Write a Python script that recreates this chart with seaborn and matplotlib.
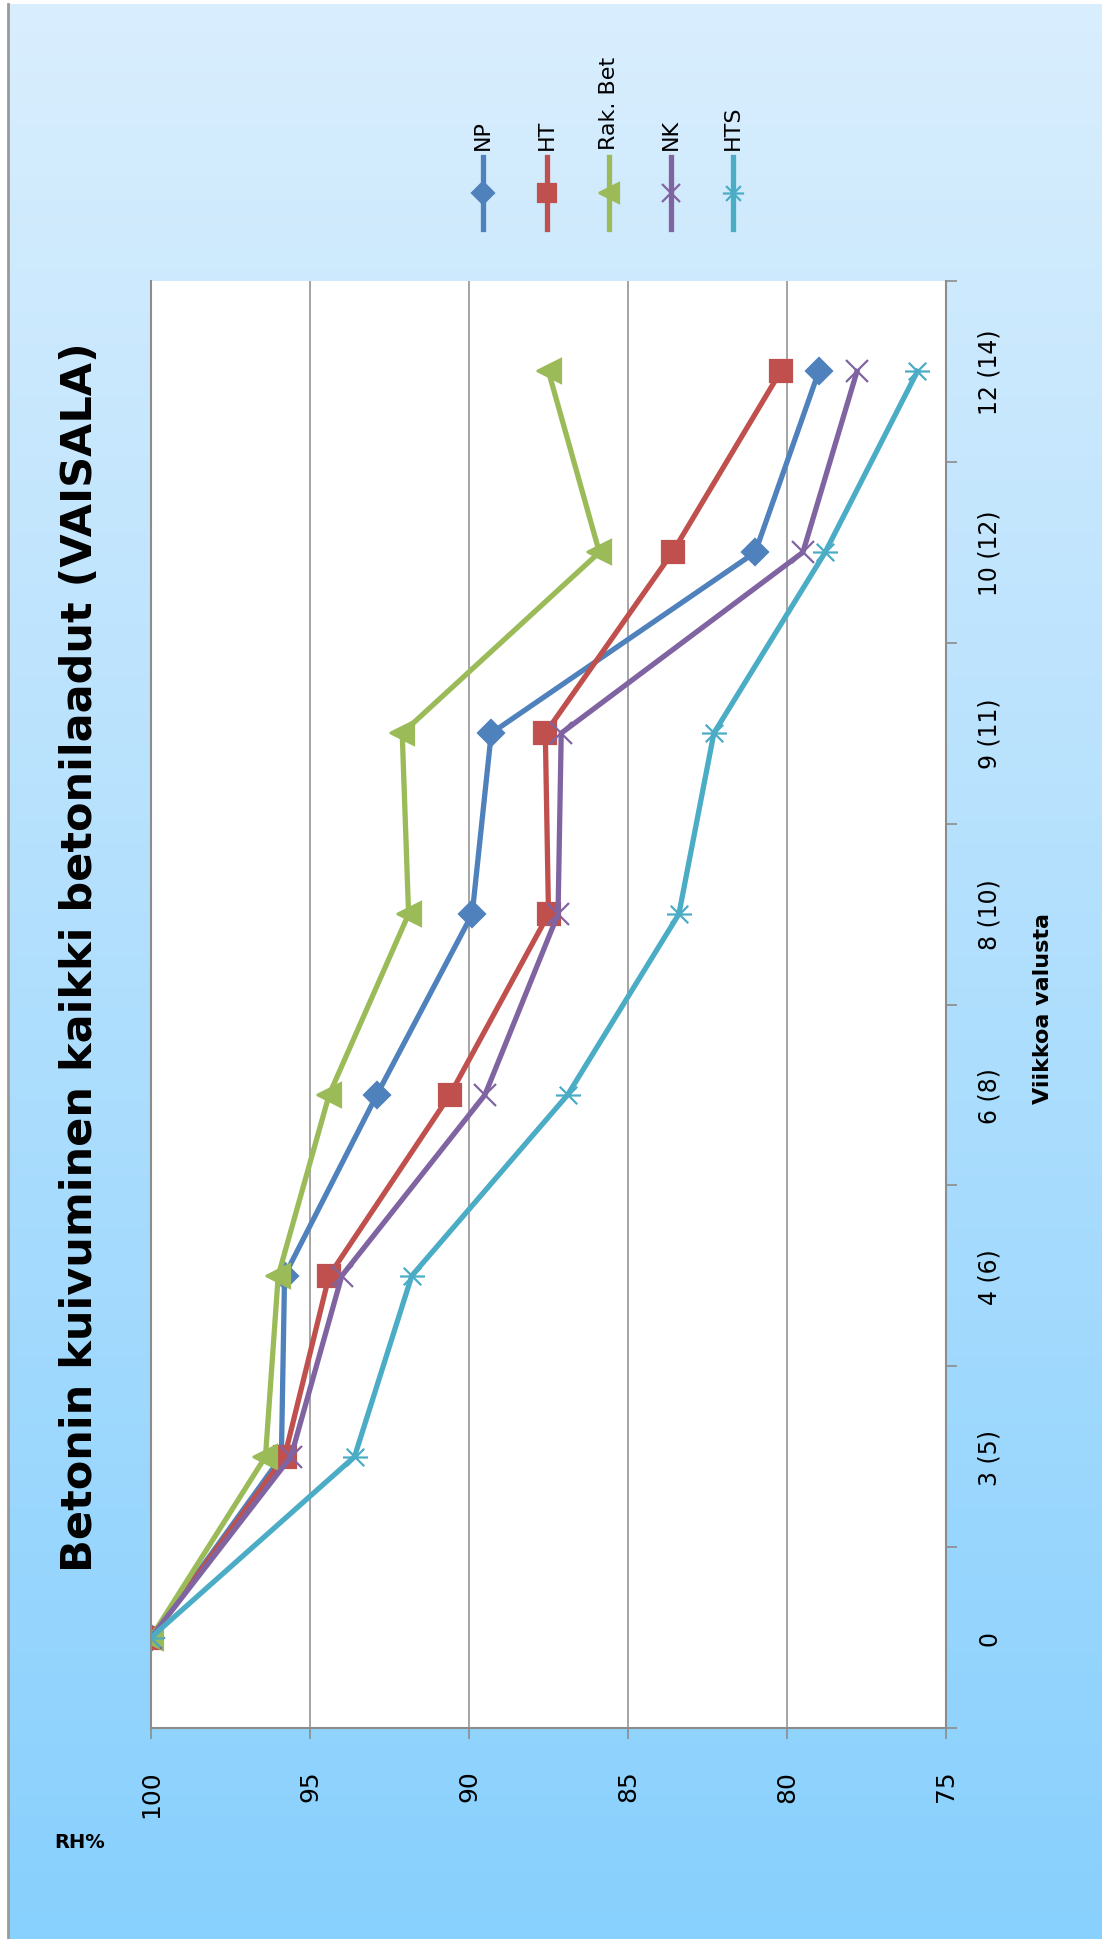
import numpy as np
import pandas as pd
import seaborn as sns
import matplotlib.pyplot as plt
from matplotlib.lines import Line2D
from matplotlib.path import Path

# data (RH% per measuring week)
weeks = ["0", "3 (5)", "4 (6)", "6 (8)", "8 (10)", "9 (11)", "10 (12)", "12 (14)"]
np_rh = [100, 95.9, 95.8, 92.9, 89.9, 89.3, 81.0, 79.0]
ht_rh = [100, 95.8, 94.4, 90.6, 87.5, 87.6, 83.6, 80.2]
rak_rh = [100, 96.4, 96.0, 94.4, 91.9, 92.1, 85.9, 87.5]
nk_rh = [100, 95.6, 94.0, 89.5, 87.2, 87.1, 79.5, 77.8]
hts_rh = [100, 93.6, 91.8, 86.9, 83.4, 82.3, 78.8, 75.9]
rh_ticks = [100, 95, 90, 85, 80, 75]

names = ["NP", "HT", "Rak. Bet", "NK", "HTS"]
colors = ["#4F81BD", "#C0504D", "#9BBB59", "#8064A2", "#4BACC6"]

star = Path([(-1, 0), (1, 0), (-0.7, -0.7), (0.7, 0.7), (-0.7, 0.7), (0.7, -0.7)],
            [Path.MOVETO, Path.LINETO] * 3)
markers = ["D", "s", "<", "x", star]
msizes = [13, 16, 17, 16, 18]

df = pd.DataFrame({"pos": np.tile(np.arange(len(weeks)), 5),
                   "RH": np_rh + ht_rh + rak_rh + nk_rh + hts_rh,
                   "series": np.repeat(names, len(weeks))})

W, H = 1102, 1940
fig = plt.figure(figsize=(W / 100, H / 100), dpi=100)
fig.patch.set_facecolor("white")

# gradient background
bg = fig.add_axes([9 / W, 0, 1 - 9 / W, 1 - 5 / H])
top = np.array([0xd9, 0xee, 0xfd]) / 255
bot = np.array([0x88, 0xd0, 0xfd]) / 255
t = np.linspace(0, 1, 256)[:, None]
grad = top[None, :] * (1 - t) + bot[None, :] * t
bg.imshow(np.repeat(grad[:, None, :], 2, axis=1), aspect="auto", extent=[0, 1, 0, 1])
bg.set_axis_off()
fig.add_artist(Line2D([7.5 / W, 7.5 / W], [0, 1 - 5 / H], transform=fig.transFigure,
                      color="#9a9a9a", lw=2))

ax = fig.add_axes([151 / W, 1 - 1729 / H, (946 - 151) / W, (1729 - 282) / H])
ax.set_facecolor("white")

for name, c, m, ms in zip(names, colors, markers, msizes):
    d = df[df["series"] == name]
    sns.lineplot(data=d, x="RH", y="pos", sort=False, estimator=None, color=c,
                 marker=m, markersize=ms, mfc=c, mec=c, mew=1.6, lw=3.8, ax=ax)

ax.set_xlim(100, 75)
ax.set_ylim(-0.5, len(weeks) - 0.5)
ax.set_xticks(rh_ticks)
ax.set_xticklabels([str(v) for v in rh_ticks], rotation=90, va="top", fontsize=18)
ax.grid(axis="x", color="#8c8c8c", lw=1.1)
ax.grid(axis="y", visible=False)
ax.tick_params(axis="x", length=8, color="#8c8c8c", width=1.2, pad=22)

ax.yaxis.tick_right()
ax.set_yticks(np.arange(len(weeks)))
ax.set_yticklabels(weeks, rotation=90, fontsize=17, va="center")
ax.set_yticks(np.arange(len(weeks) + 1) - 0.5, minor=True)
ax.tick_params(axis="y", which="major", length=0, pad=23)
ax.tick_params(axis="y", which="minor", length=8, color="#8c8c8c", width=1.2, right=True, left=False)
ax.set_xlabel("")
ax.set_ylabel("")

ax.spines["top"].set_visible(False)
for s in ["bottom", "right", "left"]:
    ax.spines[s].set_color("#8c8c8c")
    ax.spines[s].set_linewidth(1.5)

fig.text(80 / W, 1 - 957 / H, "Betonin kuivuminen kaikki betonilaadut (VAISALA)",
         rotation=90, ha="center", va="center", fontsize=31, fontweight="bold")
fig.text(1043 / W, 1 - 1008 / H, "Viikkoa valusta", rotation=90, ha="center",
         va="center", fontsize=16, fontweight="bold")
fig.text(80 / W, 1 - 1843 / H, "RH%", ha="center", va="center", fontsize=14, fontweight="bold")

# legend drawn by hand, rotated like the chart
leg_x = [483, 547, 609, 671, 733]
for x, name, c, m, ms in zip(leg_x, names, colors, markers, msizes):
    fig.add_artist(Line2D([x / W] * 3, [1 - 230 / H, 1 - 194 / H, 1 - 158 / H],
                          transform=fig.transFigure, color=c, lw=3.8, marker=m,
                          markersize=ms * 0.85, mfc=c, mec=c, mew=1.6, markevery=[1]))
    fig.text(x / W, 1 - 150 / H, name, rotation=90, ha="center", va="bottom", fontsize=16)

plt.savefig("out.png", dpi=100)
